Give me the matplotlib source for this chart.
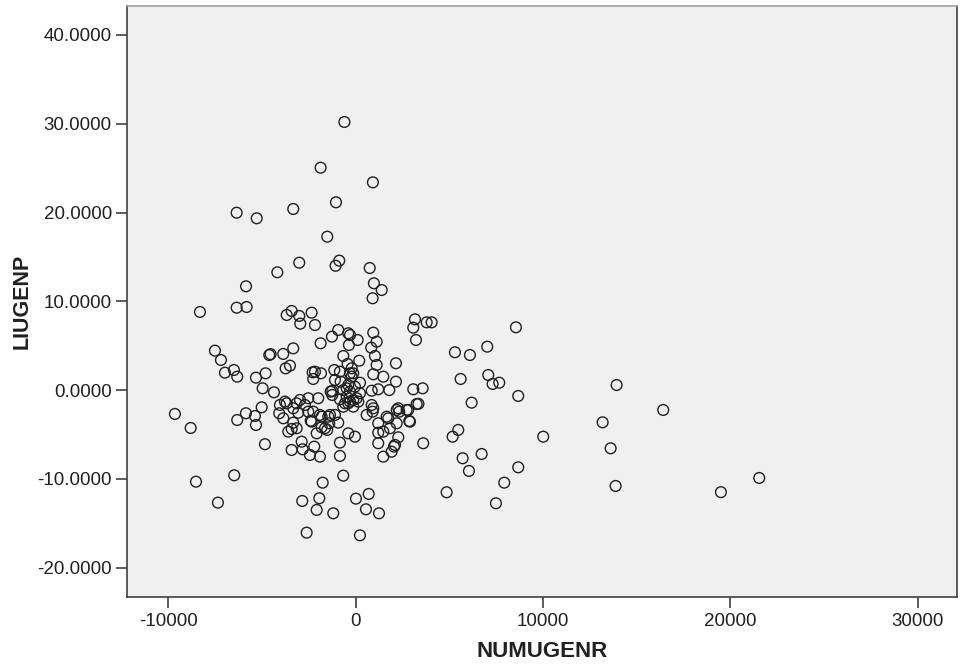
import matplotlib
matplotlib.use('Agg')
import matplotlib.pyplot as plt
from matplotlib.ticker import FormatStrFormatter

# NUMUGENR (x) and LIUGENP (y) pairs
numugenr = [
    -600, -1870, 920, -1050, -3330, -6350, -5280, -1515, -3010, -4180,
    -875, -1070, 750, 975, 1390, 905, -5850, -6350, -5820, -8310,
    -3680, -3415, -3010, -2955, -2350, -2170, 3165, 3075, 3790, 4055,
    8554, 5299, 6099, 7022, 5603, 7076, 7310, 7663, 6190, 8676,
    13927, 16414, 13180, 13607, 13874, 19493, 21537, 5475, 5176, 10010,
    5710, 6723, 6046, 8676, 7930, 4856, 7486,
    -1870, -1265, -930, -395, -360, 107, 940, 1120, 830, 1030,
    1120, 940, 1475, 2150, 2150, 1795, 1205, 855, 3220, 3075,
    3575, -7510, -7190, -6975, -6495, -6320, -5320, -4805, -4965, -4360,
    -4610, -4540, -3865, -3330, -3735, -3505, -2295, -2265, -1850, -1140,
    -840, -660, -430, 190, -130, 230, -800, -1335, -1250, -305,
    -1995, -840, -9645, -5015, -5855, -4040, -3775, -2970, 940, 2275,
    3255, 3350, 2805, -8805, -8520, -6480, -7350, -6320, -5375, -5320,
    -662, -1760, -2850, -1940, -2080, -1195, 16, 695, 550, 1245,
    -2615, 230, -4840, -4080, -3595, -3415, -3330, -3065, -2880, -3415,
    -2830, -2440, -1905, -2210, -2400, -2080, -1815, -1515, -1410, -930,
    -840, -840, -37, 587, 907, 1205, 1205, 1205, 1475, 1920,
    2045, 2275, 2190, 2325, 2860, 3605, 1655, 1475, -128, -3330,
    -3150, -2705, -2530, -2350, -1815, -1460, -1105, -395, -570, 139,
    855, 1740, 1830, 2190, 2720, 2900, 2100, -3860,
    -300, -213, -1105, -213, -37, -480, -395, 53, 229, -1250,
    -2170, -2262, -1905, -1370, -1638, -3148, -3682, -2529, -395, -128,
    -480, -662, -304, -662, -304,
]
liugenp = [
    30.2, 25.05, 23.4, 21.15, 20.4, 19.98, 19.35, 17.28, 14.35, 13.27,
    14.58, 14.0, 13.75, 12.03, 11.27, 10.34, 11.69, 9.28, 9.36, 8.8,
    8.46, 8.91, 8.35, 7.48, 8.72, 7.33, 7.97, 7.03, 7.63, 7.63,
    7.07, 4.26, 3.95, 4.89, 1.25, 1.7, 0.69, 0.83, -1.42, -0.66,
    0.57, -2.24, -3.63, -6.56, -10.8, -11.5, -9.9, -4.49, -5.25, -5.25,
    -7.68, -7.2, -9.11, -8.7, -10.43, -11.51, -12.75,
    5.27, 6.02, 6.77, 6.4, 5.08, 5.64, 6.47, 5.45, 4.78, 3.84,
    2.83, 1.78, 1.51, 3.02, 0.95, 0.0, 0.09, -0.07, 5.64, 0.09,
    0.2, 4.44, 3.39, 1.96, 2.26, 1.51, 1.4, 1.89, 0.2, -0.25,
    3.95, 4.05, 4.07, 4.7, 2.45, 2.75, 2.0, 1.25, 1.89, 2.26,
    2.07, 3.84, 2.94, 3.31, 1.89, 0.83, 0.95, -0.18, -0.1, -0.18,
    -0.92, -1.04, -2.69, -1.94, -2.61, -1.68, -1.3, -1.11, -2.05, -2.05,
    -1.57, -1.55, -2.24, -4.27, -10.32, -9.6, -12.68, -3.37, -2.92, -3.93,
    -9.64, -10.43, -12.49, -12.19, -13.5, -13.88, -12.23, -11.7, -13.43, -13.88,
    -16.06, -16.36, -6.1, -2.61, -4.68, -4.38, -3.67, -2.55, -5.81, -6.75,
    -6.67, -7.31, -7.5, -6.37, -3.45, -4.87, -4.19, -4.49, -3.74, -3.67,
    -5.92, -7.42, -5.25, -2.8, -2.43, -3.74, -4.8, -5.99, -7.5, -6.94,
    -6.37, -5.32, -3.74, -2.43, -3.48, -5.99, -3.0, -4.68, -1.87, -2.05,
    -1.49, -1.68, -2.43, -3.56, -3.0, -3.0, -2.8, -4.87, -1.49, -1.3,
    -1.68, -3.18, -4.3, -2.24, -2.24, -3.56, -6.18, -3.18,
    6.2, 2.45, 1.14, 1.51, 0.38, 0.2, -1.49, -0.92, -0.36, -0.55,
    2.07, -2.43, -2.8, -2.8, -4.3, -4.3, -1.49, -0.92, 0.57, -1.11,
    -0.74, 0.0, 1.89, -1.87, -1.3,
]

plt.rcParams['font.family'] = ['Liberation Sans', 'DejaVu Sans']
plt.rcParams['axes.unicode_minus'] = False

fig = plt.figure(figsize=(9.61, 6.72), dpi=100)
ax = fig.add_axes([0.1322, 0.1112, 0.8636, 0.8798])
ax.set_facecolor('#f0f0f0')

ax.scatter(numugenr, liugenp, s=60, facecolors='none', edgecolors='#202020',
           linewidths=1.0, zorder=3)

ax.set_xlim(-12200, 32090)
ax.set_ylim(-23.34, 43.26)
ax.set_xticks([-10000, 0, 10000, 20000, 30000])
ax.set_yticks([-20, -10, 0, 10, 20, 30, 40])
ax.yaxis.set_major_formatter(FormatStrFormatter('%.4f'))

for side in ['left', 'bottom', 'right', 'top']:
    ax.spines[side].set_color('#404040')
    ax.spines[side].set_linewidth(1.2)
ax.spines['top'].set_color('#a0a0a0')

ax.tick_params(axis='both', direction='out', length=8, width=1.2,
               color='#404040', labelsize=13.5, labelcolor='#202020', pad=3)

ax.set_xlabel('NUMUGENR', fontsize=16, fontweight='bold', color='#202020', labelpad=8)
ax.set_ylabel('LIUGENP', fontsize=15.5, fontweight='bold', color='#202020', labelpad=3)

fig.savefig('out.png', dpi=100, facecolor='white')
